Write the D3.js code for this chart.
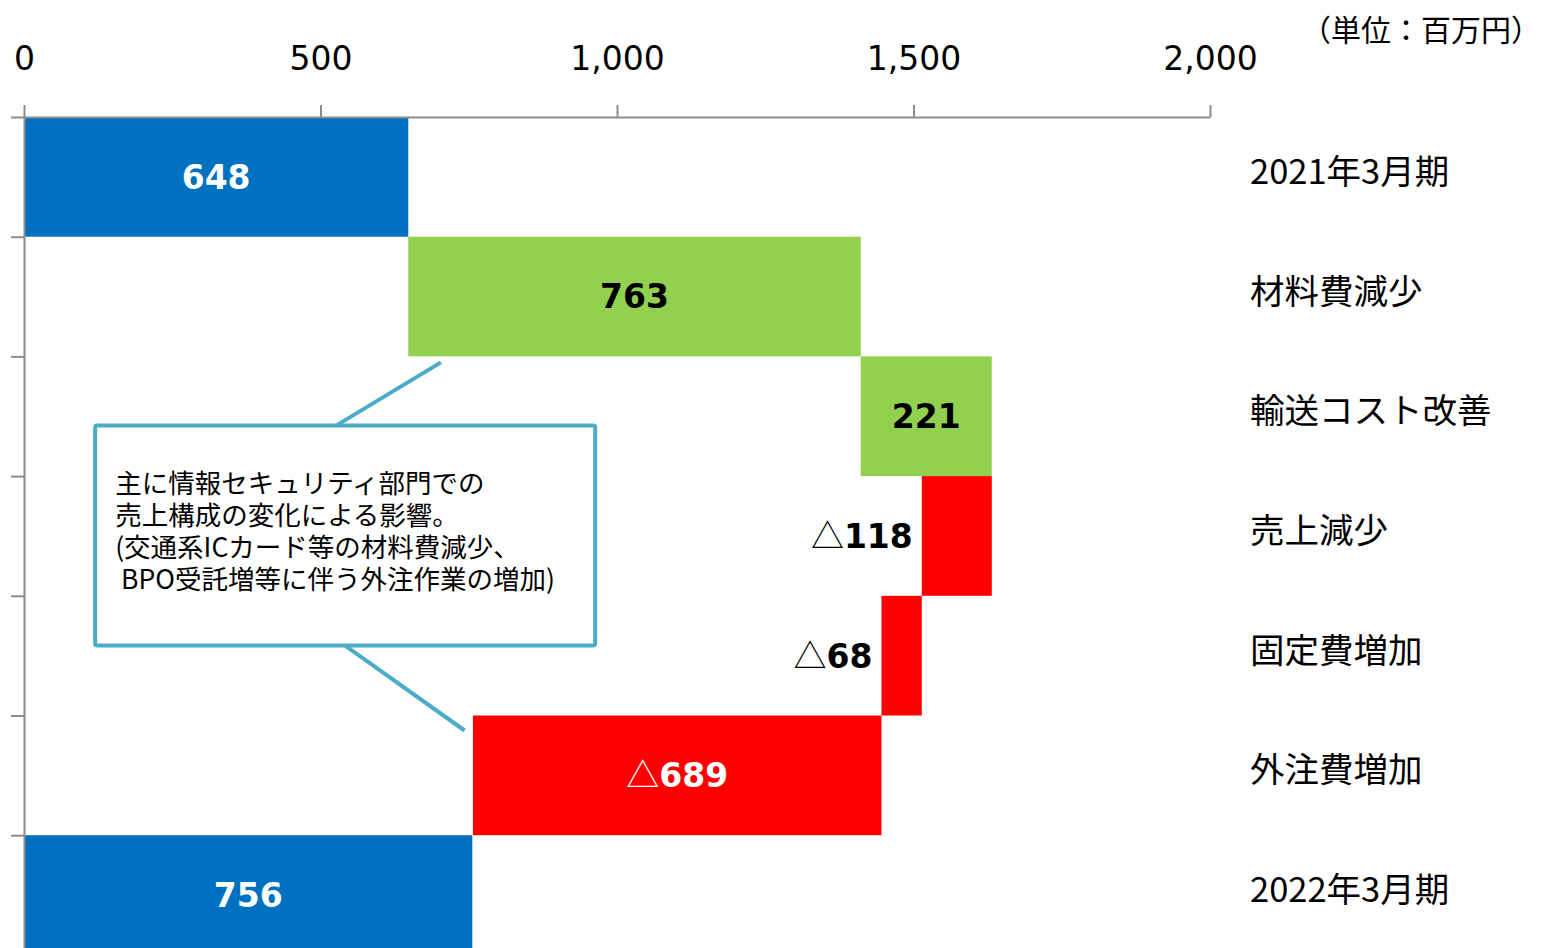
<!DOCTYPE html>
<html>
<head>
<meta charset="utf-8">
<script src="https://cdn.jsdelivr.net/npm/d3@7"></script>
<style>
  body { margin: 0; background: #fff; }
  svg { display: block; }
</style>
</head>
<body>
<div id="chart"></div>
<script>
// Data.
const categories = ['2021年3月期', '材料費減少', '輸送コスト改善', '売上減少', '固定費増加', '外注費増加', '2022年3月期'];
const barStart = [0, 648, 1411, 1514, 1446, 757, 0];
const barEnd = [648, 1411, 1632, 1632, 1514, 1446, 756];
const barValue = [648, 763, 221, -118, -68, -689, 756];
const barKind = ['total', 'up', 'up', 'down', 'down', 'down', 'total'];
const xTicks = [0, 500, 1000, 1500, 2000];
const unitLabel = '（単位：百万円）';
const noteLines = [
  '主に情報セキュリティ部門での',
  '売上構成の変化による影響。',
  '(交通系ICカード等の材料費減少、',
  ' BPO受託増等に伴う外注作業の増加)'
];

const colors = { total: '#0070C0', up: '#92D050', down: '#FF0000' };
const numFont = 'DejaVu Sans, Verdana, sans-serif';
const jpFont = '"Noto Sans CJK JP", "Noto Sans", sans-serif';

const W = 1541, H = 948;
const margin = { top: 117, left: 24, right: 1210 };
const band = 119.7;

const svg = d3.select('#chart').append('svg')
  .attr('width', W)
  .attr('height', H);

// Scales.
const x = d3.scaleLinear().domain([0, 2000]).range([margin.left, margin.right]);
const y = d3.scaleBand().domain(categories)
  .range([margin.top, margin.top + band * categories.length])
  .padding(0);
const yIdx = d3.scaleLinear().domain([0, categories.length]).range(y.range());

// Bars.
const rows = categories.map((c, i) => ({
  cat: c, start: barStart[i], end: barEnd[i], value: barValue[i], kind: barKind[i]
}));

svg.append('g').selectAll('rect')
  .data(rows)
  .enter()
  .append('rect')
  .attr('x', d => x(d.start))
  .attr('y', d => y(d.cat))
  .attr('width', d => x(d.end) - x(d.start))
  .attr('height', y.bandwidth())
  .style('fill', d => colors[d.kind]);

// Top axis.
const xAxis = d3.axisTop(x)
  .tickValues(xTicks)
  .tickFormat(d3.format(','))
  .tickSize(12)
  .tickSizeOuter(0)
  .tickPadding(35);

const xAxisDraw = svg.append('g')
  .attr('transform', `translate(0, ${margin.top})`)
  .call(xAxis);
xAxisDraw.selectAll('path, line').style('stroke', '#8c8c8c').style('stroke-width', 2);
xAxisDraw.selectAll('text')
  .style('font-family', numFont)
  .style('font-size', '33px')
  .style('fill', '#000');

// Left axis, ticks on band edges.
const yAxis = d3.axisLeft(yIdx)
  .ticks(categories.length)
  .tickFormat('')
  .tickSize(13)
  .tickSizeOuter(0);

const yAxisDraw = svg.append('g')
  .attr('transform', `translate(${margin.left}, 0)`)
  .call(yAxis);
yAxisDraw.selectAll('path, line').style('stroke', '#8c8c8c').style('stroke-width', 2);

// Category labels.
svg.append('g').selectAll('text')
  .data(categories)
  .enter()
  .append('text')
  .attr('x', 1250)
  .attr('y', d => y(d) + y.bandwidth() / 2 - 8)
  .attr('dominant-baseline', 'central')
  .style('font-family', jpFont)
  .style('font-size', '34.5px')
  .style('fill', '#000')
  .text(d => d);

// Unit label.
svg.append('text')
  .attr('x', 1541)
  .attr('y', 41)
  .attr('text-anchor', 'end')
  .style('font-family', jpFont)
  .style('font-size', '30px')
  .text(unitLabel);

// Value labels.
const outside = d => d.kind === 'down' && Math.abs(d.value) < 200;
const labels = svg.append('g').selectAll('text')
  .data(rows)
  .enter()
  .append('text')
  .attr('x', d => outside(d) ? x(d.start) - 9 : (x(d.start) + x(d.end)) / 2)
  .attr('y', d => y(d.cat) + y.bandwidth() / 2)
  .attr('dy', '0.36em')
  .attr('text-anchor', d => outside(d) ? 'end' : 'middle')
  .style('font-family', numFont)
  .style('font-size', '33px')
  .style('font-weight', 'bold')
  .style('fill', d => (d.kind === 'total' || (d.kind === 'down' && !outside(d))) ? '#fff' : '#000');

labels.filter(d => d.value < 0).append('tspan')
  .style('font-family', jpFont)
  .style('font-weight', 'normal')
  .text('△');
labels.append('tspan')
  .text(d => Math.abs(d.value));

// Callout.
const note = svg.append('g');
const boxX = x(120), boxY = y('輸送コスト改善') + 69;
const boxW = 500, boxH = 220;
const lineColor = '#4BACC6';

note.append('line')
  .attr('x1', x(703)).attr('y1', y('輸送コスト改善') + 6)
  .attr('x2', x(527)).attr('y2', boxY)
  .style('stroke', lineColor).style('stroke-width', 4);

note.append('line')
  .attr('x1', x(541)).attr('y1', boxY + boxH)
  .attr('x2', x(743)).attr('y2', y('外注費増加') + 15)
  .style('stroke', lineColor).style('stroke-width', 4);

note.append('rect')
  .attr('x', boxX).attr('y', boxY)
  .attr('width', boxW).attr('height', boxH)
  .attr('rx', 2)
  .style('fill', '#fff')
  .style('stroke', lineColor)
  .style('stroke-width', 4);

note.append('text')
  .attr('xml:space', 'preserve')
  .style('white-space', 'pre')
  .style('font-family', jpFont)
  .style('font-size', '26.5px')
  .style('fill', '#000')
  .selectAll('tspan')
  .data(noteLines)
  .enter()
  .append('tspan')
  .attr('x', boxX + 20)
  .attr('y', (d, i) => boxY + 68 + i * 32)
  .text(d => d);
</script>
</body>
</html>
